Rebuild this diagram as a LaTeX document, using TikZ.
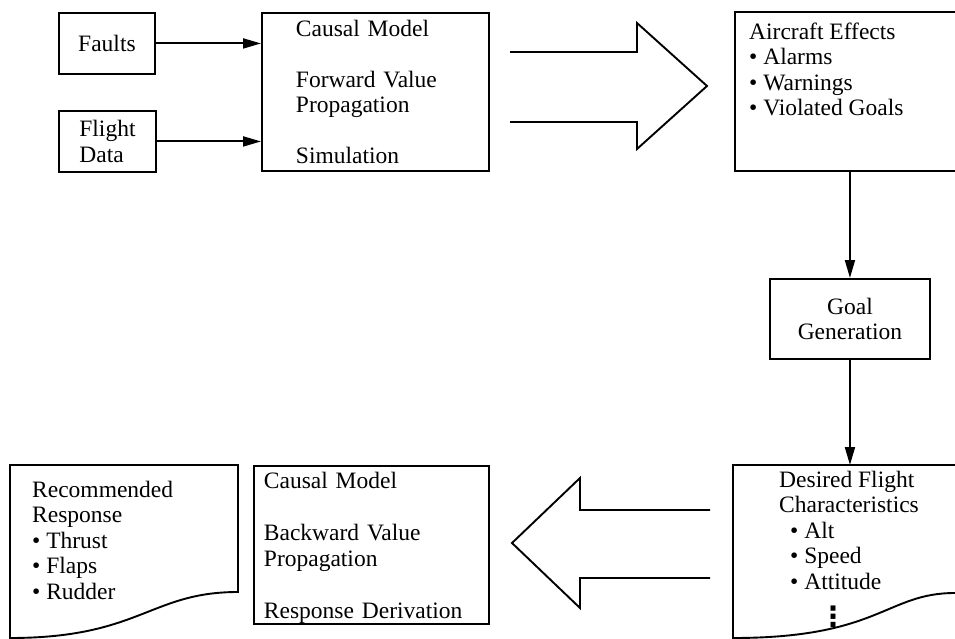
\documentclass[tikz,border=0pt]{standalone}
\usepackage{fontspec}
\setmainfont{Liberation Serif}
\newfontfamily\dotsfont{DejaVu Sans}
\usetikzlibrary{arrows.meta}
\begin{document}
\begin{tikzpicture}[x=1pt,y=-1pt,
  every node/.style={font=\fontsize{23.5}{25.5}\selectfont, inner sep=0pt},
  box/.style={draw, line width=1.9pt, inner sep=0pt},
  flow/.style={line width=1.9pt, -{Triangle[length=18pt,width=10pt]}},
  outline/.style={line width=1.9pt, line join=miter}
]
\useasboundingbox (0,0) rectangle (955,639);
\clip (0,0) rectangle (955,639);

% inputs and forward simulation
\node[box, anchor=north west, minimum width=96pt, minimum height=61pt] (faults) at (58,12) {Faults};
\node[box, anchor=north west, minimum width=97pt, minimum height=61pt, align=left] (fdata) at (58,110) {Flight\\Data};
\node[box, anchor=north west, minimum height=158pt, text width=159pt, inner xsep=34pt, align=left] (sim) at (261,12)
  {Causal Model\\[25.5pt]Forward Value\\Propagation\\[25.5pt]Simulation};

\draw[flow] (faults.east) -- (faults.east -| sim.west);
\draw[flow] (fdata.east) -- (fdata.east -| sim.west);

% open block arrow to the effects
\draw[outline] (510,52) -- (637,52) -- (637,23) -- (707,86) -- (637,149) -- (637,122) -- (510,122);

% aircraft effects
\node[box, anchor=north west, minimum width=230pt, minimum height=159pt] (effects) at (734,11) {};
\node[anchor=base west, align=left] (effectstext) at (749,116)
  {Aircraft Effects\\\textbullet\ Alarms\\\textbullet\ Warnings\\\textbullet\ Violated Goals};

% goal generation
\node[box, anchor=north west, minimum width=160pt, minimum height=80pt, align=center] (goal) at (769,278) {Goal\\Generation};

% desired flight characteristics (document)
\draw[outline] (733,638) -- (733,465) -- (962,465) -- (962,593) -- (955,593)
  .. controls (886,593) and (880,638) .. (733,638) -- cycle;
\coordinate (dtop) at (851,465);
\node[anchor=base west, align=left] (want) at (779,589)
  {Desired Flight\\Characteristics\\\hspace{11pt}\textbullet\ Alt\\\hspace{11pt}\textbullet\ Speed\\\hspace{11pt}\textbullet\ Attitude};
\node[font=\fontsize{28}{28}\dotsfont\bfseries] (more) at (833,617) {⋮};

\draw[flow] (effects.south -| goal.north) -- (goal.north);
\draw[flow] (goal.south) -- (goal.south |- dtop);

% open block arrow back to the derivation
\draw[outline] (710,510) -- (580,510) -- (580,478) -- (512,543) -- (580,608) -- (580,578) -- (710,578);

% backward derivation
\node[box, anchor=north west, minimum height=158pt, text width=215pt, inner xsep=10pt, align=left] (derive) at (253,465)
  {\rule{0pt}{22.5pt}Causal Model\\[27pt]Backward Value\\Propagation\\[27pt]Response Derivation};

% recommended response (document)
\draw[outline] (238,592) -- (238,465) -- (10,465) -- (10,638)
  .. controls (140,638) and (150,592) .. (238,592) -- cycle;
\node[anchor=base west, align=left] (resp) at (32,599)
  {Recommended\\Response\\\textbullet\ Thrust\\\textbullet\ Flaps\\\textbullet\ Rudder};
\end{tikzpicture}
\end{document}
